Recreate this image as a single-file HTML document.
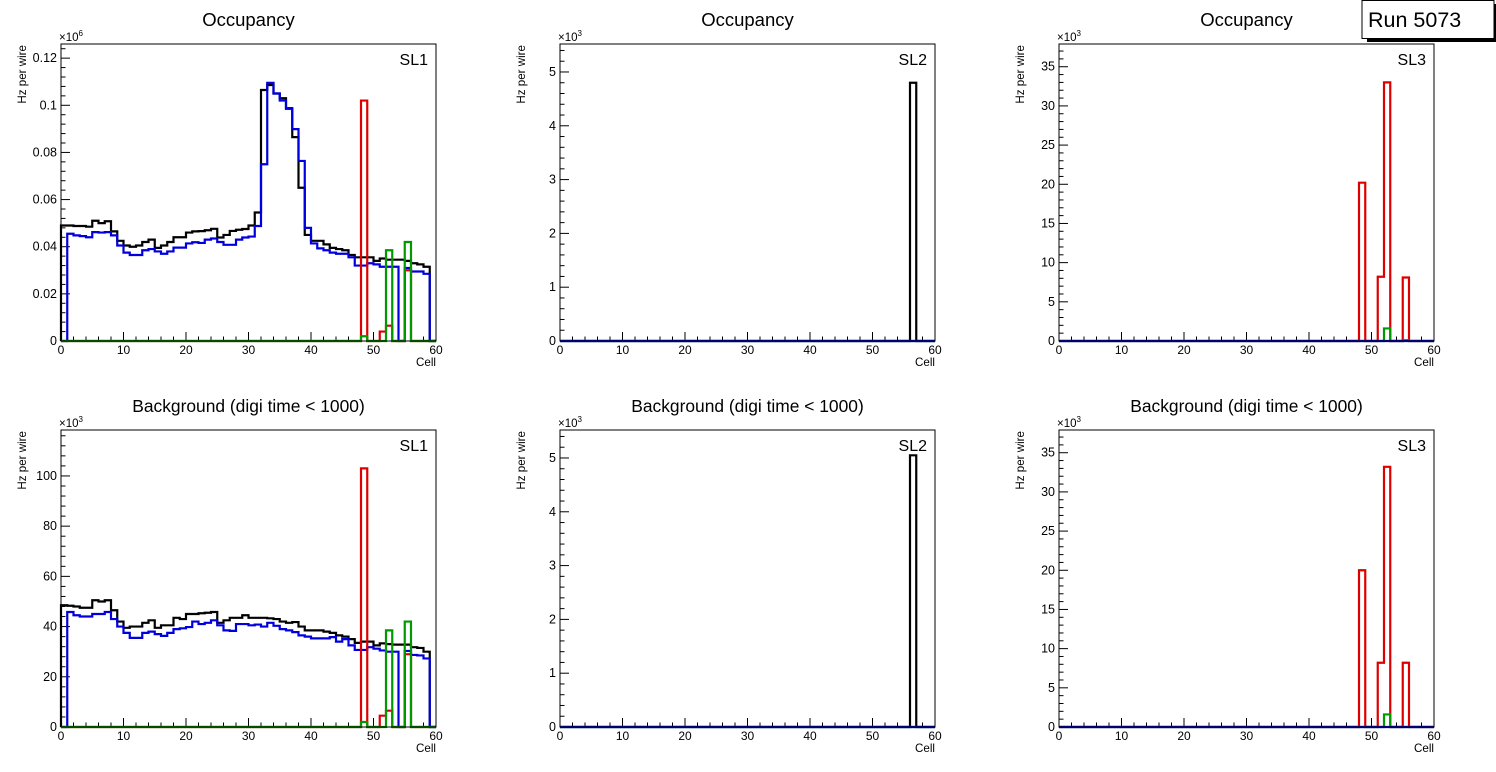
<!DOCTYPE html>
<html><head><meta charset="utf-8"><style>
html,body{margin:0;padding:0;background:#fff;}
svg{display:block;font-family:"Liberation Sans",sans-serif;}
</style></head><body>
<svg id="c" width="1496" height="772"></svg>
<script>
const cells60 = Array.from({length:60},(_,i)=>i);
// SL1 occupancy (x10^3 Hz)
const occSL1Black=[49,49,48.8,48.8,48.5,51,50,50.8,46.5,42.5,40.5,40,40.5,42,43,39.5,40.5,42,44,44,46,46.5,46.6,47,47.6,43.9,45,46.7,47.2,47.5,49,54.5,106.5,108.6,105,103,98.5,86.5,65,45,42.5,42.5,41,39.5,39,38.5,36.5,35.5,35.5,35.5,34,35,34.5,34.5,34.5,34,33,32.5,31.5,0];
const occSL1Blue=[0,45.5,44.8,44.5,44,46.2,46,46.2,44.8,40.5,37.5,36.5,36.5,38.5,39,38,37,38,39.6,39.6,41.4,41.9,41.6,43,43.5,42,40.8,40.8,43,43.9,44.3,48.8,75,109.5,105,102,98.8,89.9,76.4,48,41.4,39.3,38.5,37.5,37,37,35.5,32,32,33,32.5,31.5,31.5,31.5,0,31,29.5,29.5,28.5,0];
const occSL1Red={48:102,51:4,52:6.5,55:30};
const occSL1Green={48:2,52:38.5,55:42};
// SL1 background
const bkgSL1Black=[48.5,48.3,48,47.5,47.5,50.5,50,50.5,46.5,42,39.5,40,40,41.5,42.5,39.5,40.5,40.5,43.5,43,45,45,45.3,45.5,45.8,41.5,42.5,43.5,43.5,44.5,43.5,43.5,43.5,43.3,43,42,41.5,41.8,40,38.5,38.5,38.5,38,37.5,36.5,36,35,33.5,34,34,32.5,33.3,33,32.8,32.8,32.8,31.8,31.5,30,0];
const bkgSL1Blue=[0,45.8,44.5,44,44,45,45,45.8,43,40,37.5,35.5,35.5,37.5,38,37,36.3,37.5,39,39.3,39.8,42,41,41.5,42.5,40.5,38.5,38.3,41,41,40.5,40.8,40,41.5,40.3,39,38.5,37.8,36.5,36,35.3,35.3,35.3,35.8,34,35,32.5,30.7,30.7,31.8,31.2,30.5,30,30,0,30.3,28.7,28.5,27.3,0];
const bkgSL1Red={48:103,51:4.5,52:6.5,55:29};
const bkgSL1Green={48:2,52:38.5,55:42};
// SL2
const occSL2Black={56:4.8};
const bkgSL2Black={56:5.05};
// SL3
const occSL3Red={48:20.2,51:8.2,52:33,55:8.1};
const occSL3Green={52:1.6,55:0.1};
const bkgSL3Red={48:20,51:8.2,52:33.2,55:8.2};
const bkgSL3Green={52:1.6};
const xTicks=[0,10,20,30,40,50,60];

const NS="http://www.w3.org/2000/svg";
const svg=document.getElementById('c');
function mk(tag,attrs,parent){const e=document.createElementNS(NS,tag);for(const k in attrs)e.setAttribute(k,attrs[k]);(parent||svg).appendChild(e);return e;}
function full(obj){return cells60.map(i=>obj[i]||0);}

function panel(cfg){
  const g=mk('g',{});
  
  
  const L=cfg.x0,R=cfg.x0+375,T=cfg.y0,B=cfg.y0+297;
  const xs=v=>L+(v/60)*(R-L);
  const ys=v=>B-(v/cfg.ymax)*(B-T);
  const t=mk('text',{x:(L+R)/2,y:T-18,'text-anchor':'middle','font-size':cfg.tsize||18.5},g);t.textContent=cfg.title;
  
  for(let v=0;v<=60;v+=2){const maj=v%10===0;mk('line',{x1:xs(v),x2:xs(v),y1:B,y2:B-(maj?9:4.5),stroke:'#000','stroke-width':1},g);}
  xTicks.forEach(v=>{const tx=mk('text',{x:xs(v),y:B+13,'text-anchor':'middle','font-size':12},g);tx.textContent=v;
    });
  const minor=cfg.ystep/cfg.ysub;
  for(let k=0;k*minor<=cfg.ymax+1e-9;k++){const v=k*minor;const maj=k%cfg.ysub===0;
    mk('line',{x1:L,x2:L+(maj?9:4.5),y1:ys(v),y2:ys(v),stroke:'#000','stroke-width':1},g);
    if(maj){const ty=mk('text',{x:L-4,y:ys(v)+4,'text-anchor':'end','font-size':12.5},g);ty.textContent=cfg.fmt(v);
      }}
  const m=mk('text',{x:L-2,y:T-3,'font-size':11.5},g);m.innerHTML='×10<tspan dy="-5" font-size="8">'+cfg.exp+'</tspan>';
  
  const yl=mk('text',{transform:`translate(${L-35},${T+1}) rotate(-90)`,'text-anchor':'end','font-size':11.6},g);yl.textContent='Hz per wire';
  
  const xl=mk('text',{x:R,y:B+25,'text-anchor':'end','font-size':11.6},g);xl.textContent='Cell';
  
  const sl=mk('text',{x:R-8,y:T+21,'text-anchor':'end','font-size':16},g);sl.textContent=cfg.sl;
  
  cfg.series.forEach(s=>{
    let d=`M${xs(0)},${ys(0)}`;
    s.vals.forEach((v,i)=>{d+=` L${xs(i)},${ys(v)} L${xs(i+1)},${ys(v)}`;});
    d+=` L${xs(60)},${ys(0)}`;
    const p=mk('path',{d:d,fill:'none',stroke:s.color,'stroke-width':2.2,'stroke-linejoin':'miter'},g);
    
    
  });
  mk('rect',{x:L,y:T,width:R-L,height:B-T,fill:'none',stroke:'#000','stroke-width':1},g);
}
const zero=full({});
const fi=v=>String(Math.round(v));
panel({name:'sl1-occupancy-plot',title:'Occupancy',sl:'SL1',x0:61,y0:44,ymax:126,ystep:20,ysub:5,exp:'6',
  fmt:v=>v===0?'0':(v/1000).toFixed(2).replace(/0$/,''),
  series:[{name:'series-black',color:'#000',vals:occSL1Black},{name:'series-blue',color:'#0000dd',vals:occSL1Blue},{name:'series-red',color:'#dd0000',vals:full(occSL1Red)},{name:'series-green',color:'#009900',vals:full(occSL1Green)}]});
panel({name:'sl2-occupancy-plot',title:'Occupancy',sl:'SL2',x0:560,y0:44,ymax:5.52,ystep:1,ysub:5,exp:'3',fmt:fi,
  series:[{name:'series-black',color:'#000',vals:full(occSL2Black)},{name:'series-green',color:'#009900',vals:zero},{name:'series-blue',color:'#0000dd',vals:zero}]});
panel({name:'sl3-occupancy-plot',title:'Occupancy',sl:'SL3',x0:1059,y0:44,ymax:37.9,ystep:5,ysub:5,exp:'3',fmt:fi,
  series:[{name:'series-red',color:'#dd0000',vals:full(occSL3Red)},{name:'series-green',color:'#009900',vals:full(occSL3Green)},{name:'series-blue',color:'#0000dd',vals:zero}]});
panel({name:'sl1-background-plot',title:'Background (digi time < 1000)',tsize:17.4,sl:'SL1',x0:61,y0:430,ymax:118.3,ystep:20,ysub:5,exp:'3',fmt:fi,
  series:[{name:'series-black',color:'#000',vals:bkgSL1Black},{name:'series-blue',color:'#0000dd',vals:bkgSL1Blue},{name:'series-red',color:'#dd0000',vals:full(bkgSL1Red)},{name:'series-green',color:'#009900',vals:full(bkgSL1Green)}]});
panel({name:'sl2-background-plot',title:'Background (digi time < 1000)',tsize:17.4,sl:'SL2',x0:560,y0:430,ymax:5.52,ystep:1,ysub:5,exp:'3',fmt:fi,
  series:[{name:'series-black',color:'#000',vals:full(bkgSL2Black)},{name:'series-green',color:'#009900',vals:zero},{name:'series-blue',color:'#0000dd',vals:zero}]});
panel({name:'sl3-background-plot',title:'Background (digi time < 1000)',tsize:17.4,sl:'SL3',x0:1059,y0:430,ymax:37.9,ystep:5,ysub:5,exp:'3',fmt:fi,
  series:[{name:'series-red',color:'#dd0000',vals:full(bkgSL3Red)},{name:'series-green',color:'#009900',vals:full(bkgSL3Green)},{name:'series-blue',color:'#0000dd',vals:zero}]});
mk('rect',{x:1367,y:4,width:129,height:38,fill:'#000'});
const rb=mk('rect',{x:1362,y:0.5,width:132,height:38,fill:'#fff',stroke:'#000','stroke-width':1});

const rt=mk('text',{x:1368,y:27,'font-size':21.5});rt.textContent='Run 5073';

</script>
</body></html>
